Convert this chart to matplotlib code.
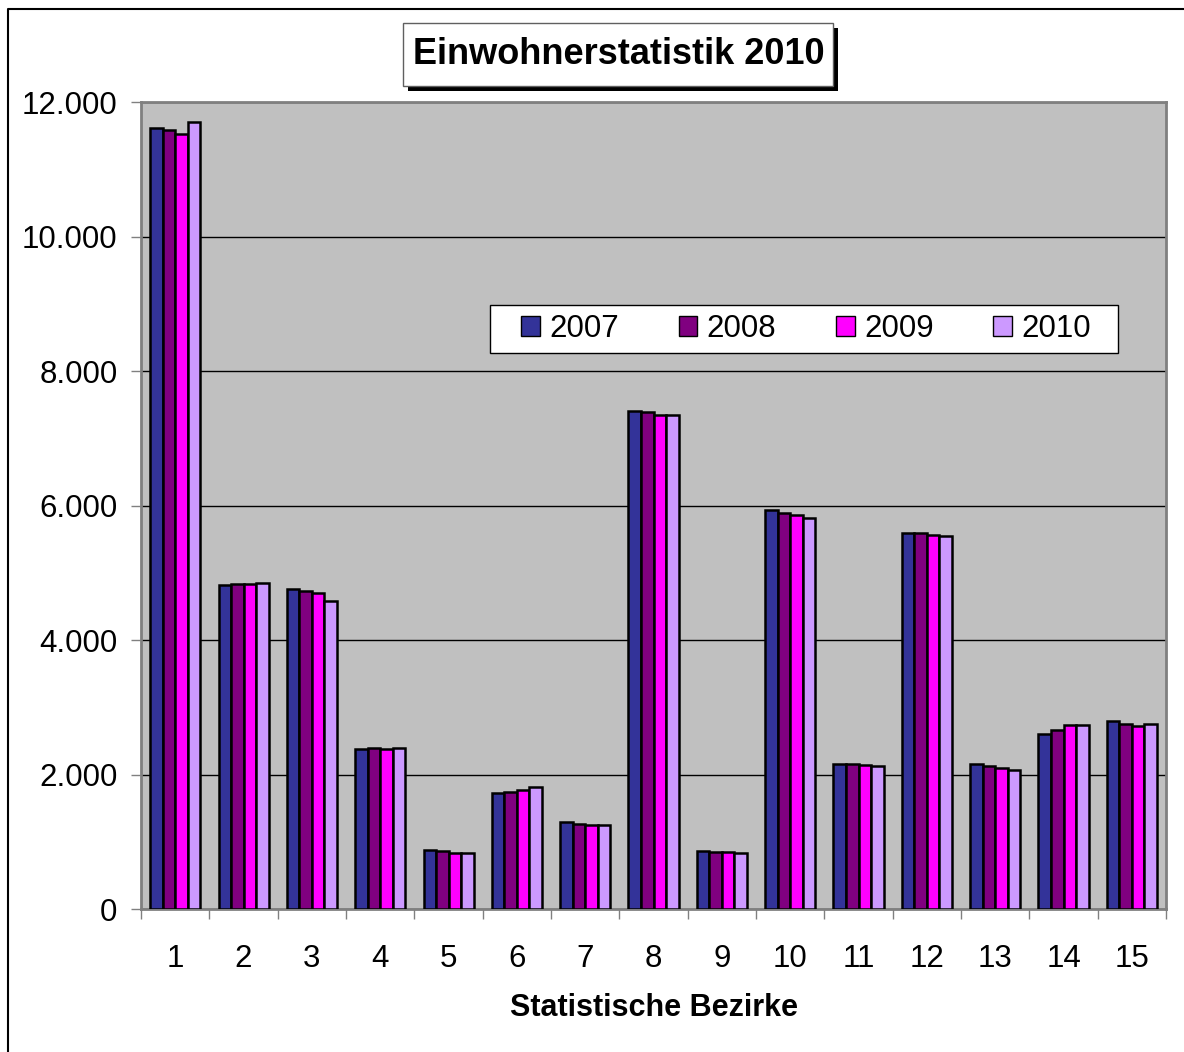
import numpy as np
import matplotlib
matplotlib.use("Agg")
import matplotlib.pyplot as plt
from matplotlib.patches import Rectangle
from matplotlib.lines import Line2D
from matplotlib.ticker import FuncFormatter

plt.rcParams['font.family'] = ['Liberation Sans', 'DejaVu Sans']

# Einwohner je statistischem Bezirk
bezirke = [str(i) for i in range(1, 16)]
jahre = ['2007', '2008', '2009', '2010']
ew_2007 = [11620, 4820, 4755, 2380, 880, 1720, 1290, 7405, 860, 5940, 2150, 5585, 2150, 2605, 2795]
ew_2008 = [11590, 4830, 4725, 2395, 860, 1740, 1260, 7385, 850, 5885, 2150, 5585, 2120, 2655, 2750]
ew_2009 = [11530, 4835, 4700, 2380, 840, 1765, 1255, 7350, 848, 5855, 2140, 5560, 2090, 2740, 2725]
ew_2010 = [11710, 4848, 4585, 2390, 838, 1820, 1255, 7350, 828, 5820, 2120, 5550, 2070, 2730, 2750]
farben = ['#333399', '#800080', '#FF00FF', '#CC99FF']

serien = [ew_2007, ew_2008, ew_2009, ew_2010]

fig = plt.figure(figsize=(11.84, 10.52), dpi=100)
ax = fig.add_axes([0.1191, 0.1359, 0.8657, 0.7671])
ax.set_facecolor('#C0C0C0')

x = np.arange(1, len(bezirke) + 1)
w = 0.183
for i, (werte, jahr, farbe) in enumerate(zip(serien, jahre, farben)):
    ax.bar(x + (i - 1.5) * w, werte, width=w, color=farbe, edgecolor='black',
           linewidth=1.8, label=jahr, zorder=3)

ax.set_xlim(0.5, len(bezirke) + 0.5)
ax.set_ylim(0, 12000)
ax.set_yticks(np.arange(0, 12001, 2000))
ax.yaxis.set_major_formatter(FuncFormatter(lambda v, p: f"{int(v):,}".replace(',', '.')))
ax.grid(axis='y', color='black', linewidth=1, zorder=1)
ax.set_axisbelow(True)

ax.set_xticks(x)
ax.set_xticklabels(bezirke)
ax.set_xticks(np.arange(0.5, len(bezirke) + 1, 1), minor=True)
ax.tick_params(axis='x', which='major', length=0, pad=25, labelsize=22.5)
ax.tick_params(axis='x', which='minor', length=7, width=1, color='#808080', direction='out')
ax.tick_params(axis='y', length=7, width=1, color='#808080', pad=10, labelsize=22.5)

for s in ax.spines.values():
    s.set_color('#808080')
    s.set_linewidth(2)

ax.set_xlabel('Statistische Bezirke', fontsize=22, fontweight='bold', labelpad=14)

# Legende: eigener Rahmen, Eintraege ohne Rahmen darin
ax.add_patch(Rectangle((0.3405, 0.689), 0.6127, 0.0595, transform=ax.transAxes,
                       facecolor='white', edgecolor='black', linewidth=1, zorder=4))
leg = ax.legend(ncol=4, loc='center', bbox_to_anchor=(0.6488, 0.7187), fontsize=22.5,
                frameon=False, handlelength=0.6, handleheight=0.6, handletextpad=0.3,
                columnspacing=1.9, borderpad=0, borderaxespad=0)
leg.set_zorder(5)
for h in leg.legend_handles:
    h.set_linewidth(1)

# Titelkasten mit Schatten
fig.patches.append(Rectangle((408 / 1184, 1 - 91 / 1052), 430 / 1184, 63 / 1052,
                             transform=fig.transFigure, facecolor='black', edgecolor='none', zorder=1))
fig.patches.append(Rectangle((403 / 1184, 1 - 86 / 1052), 430 / 1184, 63 / 1052,
                             transform=fig.transFigure, facecolor='white', edgecolor='#606060',
                             linewidth=1, zorder=2))
fig.text(619 / 1184, 1 - 55 / 1052, 'Einwohnerstatistik 2010', ha='center', va='center',
         fontsize=26, fontweight='bold', zorder=3)

# Rahmen des Diagramms
fig.lines.append(Line2D([8 / 1184, 8 / 1184, 1], [0, 1 - 9 / 1052, 1 - 9 / 1052],
                        transform=fig.transFigure, color='black', linewidth=1.5))

fig.savefig('out.png', dpi=100)
